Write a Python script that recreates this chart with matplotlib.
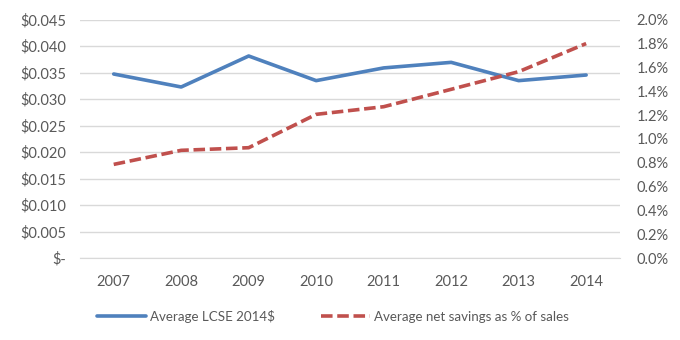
import numpy as np
from matplotlib import pyplot as plt
from matplotlib.ticker import FuncFormatter

years = ["2007", "2008", "2009", "2010", "2011", "2012", "2013", "2014"]
lcse = [0.03475, 0.0323, 0.03815, 0.0335, 0.0359, 0.03695, 0.0335, 0.03456]
savings_pct = [0.786, 0.904, 0.926, 1.206, 1.27, 1.416, 1.564, 1.80]

plt.rcParams['font.family'] = ['Lato', 'DejaVu Sans']
txt = '#595959'

fig = plt.figure(figsize=(6.8, 3.4), dpi=100)
ax = fig.add_axes([0.1176, 0.241, 0.794, 0.701])
ax2 = ax.twinx()

x = np.arange(len(years))
l1, = ax.plot(x, lcse, color='#4F81BD', lw=2.6, solid_capstyle='round', zorder=3)
l2, = ax2.plot(x, savings_pct, color='#C0504D', lw=2.6, ls=(0, (3.2, 1.3)), zorder=3)

ax.set_xlim(-0.5, 7.5)
ax.set_ylim(0, 0.045)
ax.set_yticks(np.arange(0, 0.0451, 0.005))
ax.yaxis.set_major_formatter(FuncFormatter(lambda v, p: '$-' if v < 1e-9 else f'${v:.3f}'))
ax2.set_ylim(0, 2.0)
ax2.set_yticks(np.arange(0, 2.01, 0.2))
ax2.yaxis.set_major_formatter(FuncFormatter(lambda v, p: f'{v:.1f}%'))
ax.set_xticks(x)
ax.set_xticklabels(years)

ax.grid(axis='y', color='#D9D9D9', lw=1)
for a in (ax, ax2):
    for s in a.spines.values():
        s.set_visible(False)
    a.tick_params(length=0, colors=txt, labelsize=10.5)
ax.tick_params(axis='y', pad=10)
ax2.tick_params(axis='y', pad=12)
ax.tick_params(axis='x', pad=12)
ax.spines['bottom'].set_visible(True)
ax.spines['bottom'].set_color('#D9D9D9')

fig.legend([l1, l2], ["Average LCSE 2014$", "Average net savings as % of sales"],
           loc='center left', bbox_to_anchor=(97 / 680, 0.07), ncol=2, frameon=False,
           borderpad=0, borderaxespad=0,
           fontsize=9.6, labelcolor=txt, handlelength=3.7, handletextpad=0.3,
           columnspacing=3.4)

fig.savefig("out.png", dpi=100)
